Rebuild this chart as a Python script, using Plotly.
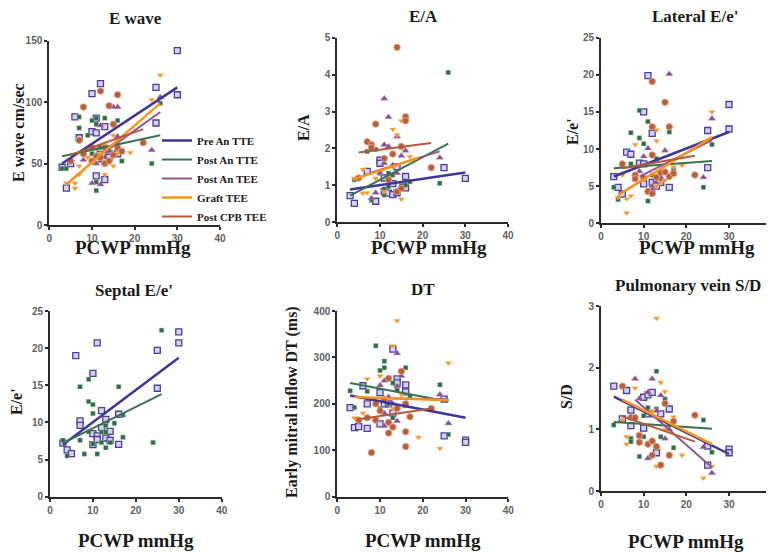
import plotly.graph_objects as go

# series names, in legend order
series = ["Pre An TTE", "Post An TTE", "Post An TEE", "Graft TEE", "Post CPB TEE"]

# ---- E wave (cm/sec) vs PCWP ----
ew_pre = [(3, 47), (4, 30), (5, 50), (6, 88), (7, 71), (10, 107), (10, 76), (11, 87), (11, 75), (11, 40),
          (12, 115), (12, 62), (13, 80), (13, 37), (14, 58), (14, 55), (16, 58), (25, 112), (25, 83),
          (30, 142), (30, 106)]
ew_post_tte = [(3, 46), (4, 46), (7, 88), (7, 79), (8, 60), (9, 73), (10, 58), (10, 85), (11, 87), (11, 82),
               (11, 35), (11, 28), (12, 63), (13, 87), (14, 60), (16, 85), (16, 63), (17, 52), (24, 50), (26, 99)]
ew_post_tee = [(8, 53), (10, 34), (11, 57), (11, 50), (12, 81), (12, 33), (12, 52), (13, 55), (13, 50),
               (14, 60), (15, 96), (16, 96), (16, 72), (24, 61), (26, 104)]
ew_graft = [(4, 34), (6, 34), (6, 30), (7, 41), (7, 48), (9, 55), (11, 62), (12, 58), (13, 41), (13, 65),
            (15, 73), (15, 48), (16, 58), (16, 62), (19, 59), (24, 102), (26, 122)]
ew_cpb = [(5, 52), (7, 69), (8, 96), (8, 58), (10, 52), (10, 63), (11, 56), (12, 109), (12, 55), (13, 50),
          (13, 63), (14, 97), (14, 52), (15, 82), (15, 57), (16, 106), (16, 63), (17, 60), (22, 67)]
ew_fits = [(3, 50, 30, 112), (3, 56, 26, 73), (10, 52, 26, 92), (4, 33, 26, 99), (5, 57, 22, 78)]

# ---- E/A ----
ea_pre = [(3, 0.72), (4, 0.51), (7, 1.38), (9, 0.57), (10, 1.68), (10, 1.6), (11, 0.83), (11, 1.2),
          (12, 0.79), (13, 0.75), (13, 1.05), (14, 0.8), (14, 1.5), (16, 1.24), (16, 0.93), (25, 1.48), (30, 1.19)]
ea_post_tte = [(4, 1.15), (7, 1.92), (8, 0.6), (9, 1.97), (10, 1.33), (11, 0.74), (11, 0.9), (12, 1.33),
               (12, 0.97), (13, 1.28), (14, 0.85), (15, 1.0), (16, 1.01), (17, 1.1), (24, 1.06), (26, 4.06)]
ea_post_tee = [(8, 0.65), (9, 0.8), (10, 1.33), (11, 3.35), (11, 2.1), (11, 1.6), (12, 2.85), (12, 2.05),
               (13, 1.55), (14, 2.32), (14, 1.33), (15, 1.8), (16, 1.94), (24, 1.75)]
ea_graft = [(4, 1.19), (5, 1.2), (6, 1.43), (6, 0.79), (7, 0.8), (9, 1.19), (11, 0.83), (13, 2.52),
            (13, 1.5), (14, 2.37), (15, 2.75), (15, 0.63), (17, 1.78)]
ea_cpb = [(5, 1.2), (7, 2.18), (8, 2.1), (8, 2.02), (9, 2.66), (11, 1.73), (12, 1.15), (13, 1.85),
          (14, 4.74), (14, 0.83), (15, 2.05), (15, 0.92), (16, 2.86), (16, 2.75), (22, 1.48)]
ea_fits = [(3, 0.89, 30, 1.35), (3, 0.72, 26, 2.13), (8, 1.35, 24, 1.92), (4, 1.17, 19, 1.75), (5, 1.89, 22, 2.15)]

# ---- Lateral E/e' ----
la_pre = [(3, 6.3), (4, 4.85), (5, 3.95), (6, 9.6), (7, 9.3), (9, 8.1), (10, 8.0), (10, 5.3), (11, 19.9),
          (10, 15.0), (12, 12.1), (12, 5.5), (13, 5.0), (13, 6.0), (14, 5.5), (16, 4.85), (25, 12.5),
          (25, 7.5), (30, 16.0), (30, 12.7)]
la_post_tte = [(3, 4.85), (4, 3.2), (7, 12.2), (7, 8.0), (9, 15.2), (9, 11.5), (10, 10.7), (11, 13.7),
               (11, 3.0), (12, 6.5), (13, 8.7), (14, 6.0), (16, 12.3), (17, 7.2), (24, 4.85), (26, 10.6)]
la_post_tee = [(9, 7.0), (10, 9.0), (11, 10.1), (12, 5.0), (12, 4.5), (13, 5.5), (14, 6.2), (15, 9.8),
               (16, 20.1), (24, 6.2), (26, 14.1)]
la_graft = [(4, 3.5), (5, 6.5), (6, 1.4), (6, 3.3), (7, 3.7), (8, 10.6), (10, 6.0), (13, 12.6), (13, 11.1),
            (13, 5.0), (14, 5.5), (15, 5.8), (17, 7.6), (19, 7.8), (24, 10.9), (26, 15.0)]
la_cpb = [(5, 8.0), (8, 6.5), (8, 6.0), (10, 6.1), (11, 4.3), (12, 19.1), (12, 13.0), (12, 9.2), (12, 4.0),
          (13, 6.2), (14, 6.8), (15, 16.3), (15, 6.9), (16, 13.0), (16, 6.3), (17, 6.7), (22, 6.5)]
la_fits = [(3, 6.3, 30, 12.3), (3, 7.4, 26, 8.4), (9, 6.3, 26, 11.2), (4, 3.8, 26, 11.6), (5, 7.4, 22, 9.1)]

# ---- Septal E/e' ----
se_pre = [(3, 7.2), (4, 6.3), (5, 5.8), (6, 19.0), (7, 10.2), (7, 9.6), (10, 16.6), (10, 8.5), (10, 7.0),
          (11, 20.7), (11, 8.2), (11, 7.7), (12, 11.6), (12, 9.3), (13, 10.4), (13, 7.9), (14, 8.8),
          (14, 7.6), (16, 11.1), (16, 7.05), (25, 19.7), (25, 14.6), (30, 22.2), (30, 20.7)]
se_post_tte = [(3, 7.6), (4, 5.5), (7, 14.8), (7, 7.6), (8, 5.75), (9, 15.8), (9, 12.8), (9, 8.75),
               (10, 12.4), (10, 11.2), (10, 7.1), (11, 5.75), (12, 8.7), (12, 7.3), (13, 9.6), (13, 8.7),
               (13, 6.6), (14, 7.3), (15, 9.9), (16, 14.8), (17, 11.0), (17, 8.0), (24, 7.3), (26, 22.4)]
se_fits = [(3, 7.0, 30, 18.7), (3, 7.2, 26, 13.8)]

# ---- DT (ms) ----
dt_pre = [(3, 192), (4, 149), (5, 151), (6, 239), (7, 200), (7, 147), (10, 224), (10, 157), (11, 200),
          (12, 200), (13, 318), (13, 180), (14, 254), (14, 245), (16, 241), (16, 226), (25, 210), (25, 131),
          (30, 122), (30, 117)]
dt_post_tte = [(3, 228), (4, 192), (7, 227), (9, 325), (10, 272), (10, 190), (11, 292), (11, 278), (12, 200),
               (13, 170), (13, 245), (14, 230), (16, 278), (17, 215), (24, 241), (26, 134)]
dt_post_tee = [(10, 240), (11, 250), (11, 152), (11, 180), (12, 215), (13, 200), (14, 309), (14, 163),
               (14, 238), (15, 260), (16, 195), (24, 220), (26, 158)]
dt_graft = [(4, 170), (6, 180), (7, 254), (8, 210), (10, 260), (13, 325), (13, 190), (14, 379), (15, 220),
            (16, 200), (19, 128), (24, 104), (26, 288)]
dt_cpb = [(5, 165), (7, 170), (8, 95), (9, 165), (9, 200), (10, 185), (11, 210), (12, 255), (12, 137),
          (12, 160), (13, 150), (14, 190), (15, 270), (16, 140), (16, 108), (16, 200), (17, 172), (22, 190)]
dt_fits = [(3, 218, 30, 170), (3, 245, 26, 205), (10, 212, 26, 210), (4, 215, 26, 208), (5, 167, 22, 190)]

# ---- Pulmonary vein S/D ----
sd_pre = [(3, 1.70), (5, 1.17), (6, 1.63), (7, 1.31), (7, 1.06), (10, 1.52), (10, 1.02), (11, 1.56),
          (11, 1.25), (12, 1.6), (13, 0.62), (14, 1.25), (16, 1.33), (25, 0.73), (25, 0.42), (30, 0.68), (30, 0.62)]
sd_post_tte = [(3, 1.07), (7, 0.85), (7, 0.8), (9, 0.56), (10, 0.88), (10, 1.22), (11, 1.35), (13, 1.94),
               (13, 1.33), (14, 0.88), (15, 1.49), (17, 0.7), (24, 1.15), (26, 0.63)]
sd_post_tee = [(8, 1.82), (9, 1.5), (11, 1.6), (11, 0.53), (12, 1.82), (13, 1.3), (14, 1.55), (15, 0.85),
               (16, 1.0), (24, 0.71), (26, 0.29)]
sd_graft = [(5, 1.15), (6, 0.88), (6, 0.76), (8, 1.67), (12, 1.3), (13, 2.8), (13, 0.4), (14, 1.76),
            (15, 1.61), (15, 1.0), (17, 1.2), (19, 0.58), (24, 0.21), (26, 0.4)]
sd_cpb = [(5, 1.70), (7, 1.19), (8, 1.19), (9, 0.9), (9, 0.79), (11, 0.76), (12, 0.81), (12, 0.58),
          (13, 0.72), (14, 0.42), (15, 1.42), (16, 0.58), (17, 1.13), (22, 1.23)]
sd_fits = [(3, 1.53, 30, 0.6), (3, 1.12, 26, 1.01), (8, 1.48, 26, 0.38), (5, 1.48, 26, 0.76), (5, 1.21, 22, 0.8)]

# styles per series
line_colors = ["#3F3596", "#3A7150", "#8D5891", "#F7941D", "#B5593A"]
line_widths = [2.5, 2, 2, 2.5, 2]
markers = [
    dict(symbol="square", size=6, color="#d6d2f2", line=dict(color="#4a3f9c", width=1.3)),
    dict(symbol="square", size=4.5, color="#2E6B45", line=dict(color="#a6c6b0", width=0.5)),
    dict(symbol="triangle-up", size=6.5, color="#8A4D8E", line=dict(color="#c7a3c9", width=0.5)),
    dict(symbol="triangle-down", size=5.5, color="#F7931E", line=dict(color="#fbc98c", width=0.5)),
    dict(symbol="circle", size=6.5, color="#B85F38", line=dict(color="#dca48c", width=1)),
]

# panel layout, in screen pixels of the reference:
# (points, fits, title, y title, y max, y dtick, x span, y span, title pos, y-title pos)
panels = [
    ([ew_pre, ew_post_tte, ew_post_tee, ew_graft, ew_cpb], ew_fits, "E wave", "E wave cm/sec",
     150, 50, (49.3, 220), (225, 40.7), (135, 19), (18, 133)),
    ([ea_pre, ea_post_tte, ea_post_tee, ea_graft, ea_cpb], ea_fits, "E/A", "E/A",
     5, 1, (337.3, 508), (222.3, 37.7), (423, 17), (304, 128)),
    ([la_pre, la_post_tte, la_post_tee, la_graft, la_cpb], la_fits, "Lateral E/e'", "E/e'",
     25, 5, (601, 771.7), (223.3, 37.7), (695, 17), (572, 132)),
    ([se_pre, se_post_tte], se_fits, "Septal E/e'", "E/e'",
     25, 5, (50, 221.7), (496.7, 311), (134, 290), (16, 402)),
    ([dt_pre, dt_post_tte, dt_post_tee, dt_graft, dt_cpb], dt_fits, "DT", "Early mitral inflow DT (ms)",
     400, 100, (337.3, 508.3), (496.7, 311), (423, 289), (292, 402)),
    ([sd_pre, sd_post_tte, sd_post_tee, sd_graft, sd_cpb], sd_fits, "Pulmonary vein S/D", "S/D",
     3, 1, (601, 771.7), (491, 306), (688, 285), (566, 397)),
]
xlabel_pos = [(133, 248), (429, 248), (697, 248), (136, 540), (423, 540), (686, 541)]

W, H = 774, 552
OFF = 8  # the page body adds an 8px margin around the figure


def px(v):
    return (v - OFF) / W


def py(v):
    return 1 - (v - OFF) / H


serif = "Liberation Serif"
fig = go.Figure()
annotations = []

for i, (pts, fits, title, ytitle, ymax, dtick, xd, yd, tpos, ypos) in enumerate(panels):
    n = "" if i == 0 else str(i + 1)
    xa, ya = "x" + n, "y" + n
    for k, p in enumerate(pts):
        fig.add_trace(go.Scatter(
            x=[v[0] for v in p], y=[v[1] for v in p], mode="markers",
            marker=markers[k], xaxis=xa, yaxis=ya, showlegend=False, name=series[k],
        ))
    for k, f in enumerate(fits):
        fig.add_trace(go.Scatter(
            x=[f[0], f[2]], y=[f[1], f[3]], mode="lines",
            line=dict(color=line_colors[k], width=line_widths[k]),
            xaxis=xa, yaxis=ya, name=series[k], showlegend=(i == 0),
        ))
    axis_common = dict(
        showline=True, linecolor="#2b2b2b", linewidth=2, ticks="outside", ticklen=3,
        tickwidth=1.5, tickcolor="#2b2b2b", showgrid=False, zeroline=False, automargin=False,
        tickfont=dict(family="Liberation Sans", size=10, color="#606060", weight="bold"),
    )
    fig.layout["xaxis" + n] = dict(
        axis_common, domain=[px(xd[0]), px(xd[1])], range=[0, 40], dtick=10, tick0=0,
        anchor=ya, fixedrange=True,
    )
    fig.layout["yaxis" + n] = dict(
        axis_common, domain=[py(yd[0]), py(yd[1])], range=[0, ymax], dtick=dtick, tick0=0,
        anchor=xa, fixedrange=True,
    )
    annotations.append(dict(
        text=title, x=px(tpos[0]), y=py(tpos[1]), xref="paper", yref="paper",
        xanchor="center", yanchor="middle", showarrow=False,
        font=dict(family=serif, size=17, color="#1a1a1a", weight="bold"),
    ))
    annotations.append(dict(
        text=ytitle, x=px(ypos[0]), y=py(ypos[1]), xref="paper", yref="paper", textangle=-90,
        xanchor="center", yanchor="middle", showarrow=False,
        font=dict(family=serif, size=16, color="#1a1a1a", weight="bold"),
    ))
    annotations.append(dict(
        text="PCWP mmHg", x=px(xlabel_pos[i][0]), y=py(xlabel_pos[i][1]), xref="paper", yref="paper",
        xanchor="center", yanchor="middle", showarrow=False,
        font=dict(family=serif, size=19, color="#1a1a1a", weight="bold"),
    ))

fig.update_layout(
    template="none",
    width=W, height=H, margin=dict(l=0, r=0, t=0, b=0, autoexpand=False),
    paper_bgcolor="white", plot_bgcolor="white",
    annotations=annotations,
    showlegend=True,
    legend=dict(
        x=px(157), y=py(126), xanchor="left", yanchor="top",
        font=dict(family=serif, size=11, color="#1a1a1a", weight="bold"),
        bgcolor="rgba(0,0,0,0)", itemwidth=30, tracegroupgap=0,
    ),
)

fig.write_html("out.html")
